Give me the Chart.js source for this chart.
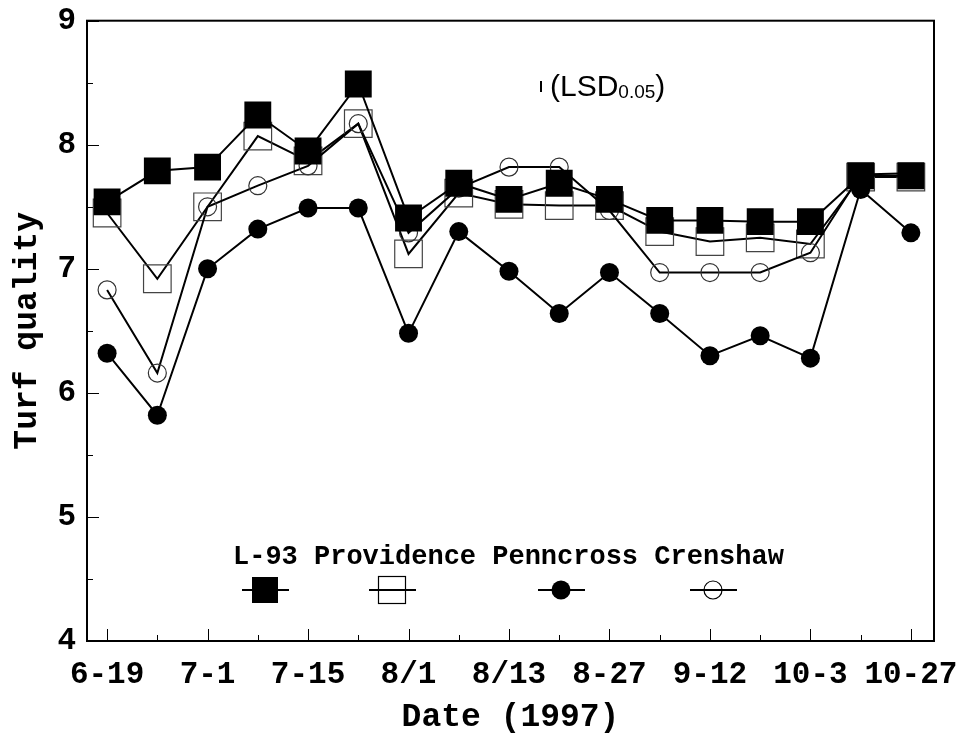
<!DOCTYPE html>
<html><head><meta charset="utf-8">
<script src="https://cdn.jsdelivr.net/npm/chart.js@4.4.1/dist/chart.umd.min.js"></script>
<style>html,body{margin:0;padding:0;background:#fff}#wrap{width:959px;height:737px;position:relative}canvas{display:block}</style>
</head><body><div id="wrap"><canvas id="c" width="959" height="737" style="width:959px;height:737px"></canvas></div>
<script>
// ---- data ----
const dates = ['6-19','','7-1','','7-15','','8/1','','8/13','','8-27','','9-12','','10-3','','10-27'];
const l93        = [7.54,7.79,7.82,8.24,7.95,8.49,7.41,7.69,7.56,7.69,7.56,7.39,7.39,7.38,7.38,7.75,7.75];
const providence = [7.45,6.92,7.50,8.07,7.87,8.17,7.12,7.61,7.52,7.51,7.51,7.30,7.22,7.25,7.20,7.74,7.74];
const penncross  = [6.32,5.82,7.00,7.32,7.49,7.49,6.48,7.30,6.98,6.64,6.97,6.64,6.30,6.46,6.28,7.64,7.29];
const crenshaw   = [6.83,6.16,7.50,7.67,7.83,8.17,7.29,7.65,7.82,7.82,7.47,6.97,6.97,6.97,7.13,7.76,7.77];
const yTicks = [4,5,6,7,8,9];
const yMinorTicks = [4.5,5.5,6.5,7.5,8.5];
const seriesNames = ['L-93','Providence','Penncross','Crenshaw'];
const lsdLabel = ['(LSD','0.05',')'];

const toPts = arr => arr.map((v,i)=>({x:i,y:v}));
const MONO = '"Liberation Mono","Courier New",monospace';

const decor = {
  id:'decor',
  afterDraw(chart){
    const {ctx, chartArea:a, scales:{x,y}} = chart;
    ctx.save();
    ctx.strokeStyle='#000';
    ctx.lineWidth=1;
    ctx.beginPath();
    dates.forEach((d,i)=>{
      const px=Math.round(x.getPixelForValue(i))+0.5;
      const len = i%2===0 ? 12 : 6;
      ctx.moveTo(px,a.bottom); ctx.lineTo(px,a.bottom-len);
    });
    yTicks.forEach(v=>{ const py=Math.round(y.getPixelForValue(v))+0.5; ctx.moveTo(a.left,py); ctx.lineTo(a.left+12,py); });
    yMinorTicks.forEach(v=>{ const py=Math.round(y.getPixelForValue(v))+0.5; ctx.moveTo(a.left,py); ctx.lineTo(a.left+6,py); });
    ctx.stroke();
    ctx.lineWidth=2;
    ctx.strokeRect(a.left,a.top,a.right-a.left,a.bottom-a.top);

    // legend
    ctx.fillStyle='#000';
    ctx.font='bold 27px '+MONO;
    ctx.textAlign='left'; ctx.textBaseline='middle';
    ctx.fillText(seriesNames.join(' '), 233, 557);
    const ly=590;
    const seg=(cx)=>{ctx.lineWidth=2;ctx.beginPath();ctx.moveTo(cx-23,ly);ctx.lineTo(cx+24,ly);ctx.stroke();};
    seg(265); ctx.fillRect(265-13,ly-13,26,26);
    seg(392); ctx.lineWidth=1.2; ctx.strokeRect(392-13.5,ly-13.5,27,27);
    seg(561); ctx.beginPath(); ctx.arc(561,ly,9.5,0,Math.PI*2); ctx.fill();
    seg(713); ctx.lineWidth=1.2; ctx.beginPath(); ctx.arc(713,ly,9,0,Math.PI*2); ctx.stroke();

    // LSD annotation
    ctx.lineWidth=2;
    ctx.beginPath(); ctx.moveTo(541,81); ctx.lineTo(541,92); ctx.stroke();
    ctx.textBaseline='alphabetic';
    ctx.font='30px "Liberation Sans",Arial,sans-serif';
    ctx.fillText(lsdLabel[0],550,96);
    let w=ctx.measureText(lsdLabel[0]).width;
    ctx.font='19px "Liberation Sans",Arial,sans-serif';
    ctx.fillText(lsdLabel[1],550+w,98);
    let w2=ctx.measureText(lsdLabel[1]).width;
    ctx.font='30px "Liberation Sans",Arial,sans-serif';
    ctx.fillText(lsdLabel[2],550+w+w2,96);
    ctx.restore();
  }
};

const base = {borderColor:'#000', borderWidth:2, tension:0, pointBorderColor:'#000'};
new Chart(document.getElementById('c'),{
  type:'line',
  data:{datasets:[
    Object.assign({label:seriesNames[0],data:toPts(l93),pointStyle:'rect',pointRadius:19,pointBackgroundColor:'#000',pointBorderWidth:0},base),
    Object.assign({label:seriesNames[2],data:toPts(penncross),pointStyle:'circle',pointRadius:9.5,pointBackgroundColor:'#000',pointBorderWidth:0},base),
    {label:seriesNames[3],data:toPts(crenshaw),pointStyle:'circle',pointRadius:9,pointBackgroundColor:'rgba(0,0,0,0)',pointBorderWidth:1.2,pointBorderColor:'#333',borderColor:'#000',borderWidth:2,tension:0},
    {label:seriesNames[1],data:toPts(providence),pointStyle:'rect',pointRadius:19.5,pointBackgroundColor:'rgba(0,0,0,0)',pointBorderWidth:1.2,pointBorderColor:'#444',borderColor:'#000',borderWidth:2,tension:0}
  ]},
  options:{
    responsive:false, animation:false, devicePixelRatio:1,
    layout:{padding:{left:0,top:17,right:25,bottom:0}},
    plugins:{legend:{display:false},tooltip:{enabled:false}},
    scales:{
      x:{type:'linear',min:-0.4,max:16.46,
        afterBuildTicks:s=>{s.ticks=dates.map((d,i)=>({value:i}));},
        afterFit:s=>{s.height=96;s.paddingLeft=0;s.paddingRight=0;},
        grid:{display:false,drawTicks:false},
        border:{display:false},
        ticks:{autoSkip:false,maxRotation:0,padding:16,color:'#000',font:{family:MONO,size:31,weight:'bold'},callback:(v)=>dates[v]||''},
        title:{display:true,text:'Date (1997)',color:'#000',font:{family:MONO,size:33,weight:'bold'},padding:{top:0,bottom:0}}
      },
      y:{type:'linear',min:4,max:9,
        afterBuildTicks:s=>{s.ticks=yTicks.map(v=>({value:v}));},
        afterFit:s=>{s.width=87;s.paddingTop=0;s.paddingBottom=0;},
        grid:{display:false,drawTicks:false},
        border:{display:false},
        ticks:{padding:11,color:'#000',font:{family:MONO,size:31,weight:'bold'}},
        title:{display:true,text:'Turf quality',color:'#000',font:{family:MONO,size:33,weight:'bold'},padding:{top:8,bottom:0}}
      }
    }
  },
  plugins:[decor]
});
</script></body></html>
